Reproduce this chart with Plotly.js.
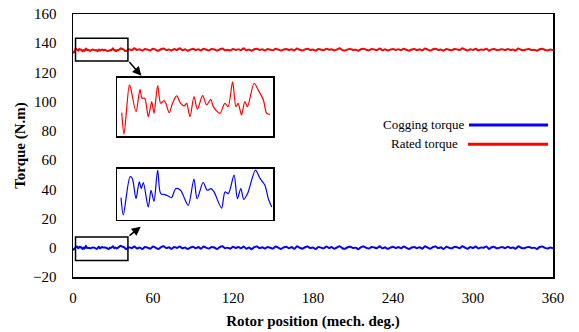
<!DOCTYPE html>
<html>
<head>
<meta charset="utf-8">
<script src="https://cdn.plot.ly/plotly-3.0.1.min.js"></script>
<style>html,body{margin:0;padding:0;background:#fff;}#chart{width:579px;height:332px;}</style>
</head>
<body>
<div id="chart"></div>
<script>
// ---- Data ----
// Rated torque, detail over 0-40 mech. deg (from the zoomed inset)
const ratedPosDetail = [0,0.62,2.05,2.43,3.85,4.93,5.47,6.2,7.17,8.09,8.7,9.7,10.5,11.4,11.9,12.8,13.7,14.8,15.9,16.8,17.5,18.4,19.5,20.4,21.8,22.9,24.0,24.7,26.5,27.8,28.7,29.9,30.8,31.4,32.3,33.2,33.9,35.7,36.8,38.2,39.1,40.0];
const ratedTorqueDetail = [134.74,133.46,136.4,136.2,134.8,136.14,135.6,135.6,134.5,135.4,134.7,136.36,135.3,135.46,135.3,134.74,135.3,135.74,135.3,135.14,135.3,134.5,135.7,134.94,135.76,135.2,135.54,135.1,134.7,135.3,135.1,136.58,135.1,135.3,134.6,135.4,135.1,136.5,136.1,135.5,134.7,134.64];
// Cogging torque, detail over 0-40 mech. deg (from the zoomed inset)
const coggingPosDetail = [0,0.61,2.39,3.0,3.98,4.85,5.39,5.92,7.24,7.96,8.75,9.73,10.53,11.67,12.5,13.4,14.56,15.8,16.5,17.85,19.36,20.2,21.8,22.9,23.9,24.7,26.7,27.6,28.5,30.0,30.9,31.8,32.6,33.6,35.7,36.9,38.2,39.1,40.0];
const coggingTorqueDetail = [-0.32,-1.34,0.92,0.82,-0.38,0.62,0.22,0.58,-0.88,0.12,-0.54,1.32,-0.08,-0.14,-0.22,-0.32,0.22,0.12,-0.18,-0.78,0.78,-0.38,0.58,0.12,0.22,0.02,-0.94,0.02,-0.08,1.02,-0.38,0.22,-0.42,-0.08,1.32,0.82,0.42,-0.38,-0.88];
// Rest of the revolution, 42..360 deg every 2 deg
const ratedTorqueRest = [
135.9,135.2,136.6,135.4,135.8,134.9,136.1,135.6,135.0,136.3,
135.5,134.8,135.9,136.4,135.3,135.7,135.1,136.0,135.4,136.5,
135.2,135.8,134.9,135.6,136.2,135.3,135.9,135.0,136.3,135.5,
135.1,136.0,135.7,134.9,135.8,136.4,135.2,135.6,135.0,136.1,
135.4,135.9,135.3,136.5,135.1,135.7,134.8,135.9,136.2,135.4,
135.8,135.0,136.0,135.5,135.2,136.3,135.6,134.9,135.7,136.1,
135.3,135.9,135.1,136.4,135.5,135.0,135.8,136.2,135.4,135.7,
134.9,136.0,135.6,135.2,136.3,135.5,135.9,135.1,135.7,136.5,
135.3,135.0,135.8,136.1,135.4,135.6,134.8,135.9,136.2,135.5,
135.1,136.0,135.7,135.3,136.4,135.2,135.8,135.0,135.6,136.1,
135.4,135.9,135.2,136.3,135.5,134.9,135.7,136.0,135.3,135.8,
135.1,136.4,135.6,135.0,135.9,136.2,135.4,135.7,134.9,136.1,
135.5,135.2,136.0,135.8,135.3,136.5,135.6,135.0,135.9,135.4,
136.2,135.1,135.7,135.5,136.3,134.9,135.8,136.0,135.2,135.6,
135.9,135.3,136.1,135.4,135.7,135.0,136.4,135.5,135.2,135.8,
136.0,135.3,135.6,134.9,135.9,136.2,135.4,135.1,135.7,135.3];
const coggingTorqueRest = [
0.4,-0.3,0.9,-0.5,0.2,-0.8,0.6,0.1,-0.6,0.8,
0.0,-0.9,0.5,1.0,-0.2,0.3,-0.7,0.6,-0.1,0.9,
-0.4,0.2,-0.8,0.1,0.7,-0.3,0.5,-0.6,0.8,0.0,
-0.5,0.6,0.2,-0.9,0.4,1.0,-0.3,0.1,-0.6,0.7,
-0.1,0.5,-0.4,0.9,-0.7,0.2,-1.0,0.4,0.8,-0.2,
0.3,-0.6,0.6,0.0,-0.5,0.9,0.1,-0.8,0.3,0.7,
-0.3,0.5,-0.7,1.0,0.0,-0.6,0.4,0.8,-0.2,0.2,
-0.9,0.6,0.1,-0.4,0.9,-0.1,0.5,-0.7,0.3,1.1,
-0.3,-0.6,0.4,0.7,-0.2,0.1,-1.0,0.5,0.8,0.0,
-0.5,0.6,0.2,-0.3,1.0,-0.4,0.3,-0.7,0.1,0.7,
-0.2,0.5,-0.4,0.9,0.0,-0.8,0.2,0.6,-0.3,0.4,
-0.6,1.0,0.1,-0.6,0.5,0.8,-0.2,0.3,-0.9,0.7,
0.0,-0.4,0.6,0.4,-0.3,1.1,0.1,-0.6,0.5,-0.1,
0.8,-0.5,0.2,0.0,0.9,-0.8,0.4,0.6,-0.4,0.1,
0.5,-0.3,0.7,-0.1,0.2,-0.6,1.0,0.0,-0.4,0.3,
0.6,-0.2,0.1,-0.8,0.5,0.8,-0.1,-0.5,0.2,-0.3];
const restPositions = [];
for (let p = 42; p <= 360; p += 2) restPositions.push(p);

const xTickVals = [0,60,120,180,240,300,360];
const yTickVals = [-20,0,20,40,60,80,100,120,140,160];
const seriesNames = ['Cogging torque','Rated torque'];

const ratedPos = ratedPosDetail.concat(restPositions);
const ratedTorque = ratedTorqueDetail.concat(ratedTorqueRest);
const coggingPos = coggingPosDetail.concat(restPositions);
const coggingTorque = coggingTorqueDetail.concat(coggingTorqueRest);

const RED = '#ff0000', BLUE = '#0000ff';
const FONT = '"Liberation Serif", "DejaVu Serif", serif';

const traces = [
  {x: coggingPos, y: coggingTorque, type:'scatter', mode:'lines', name: seriesNames[0],
   line:{color:BLUE, width:2, shape:'spline', smoothing:0.6}, xaxis:'x', yaxis:'y'},
  {x: ratedPos, y: ratedTorque, type:'scatter', mode:'lines', name: seriesNames[1],
   line:{color:RED, width:2, shape:'spline', smoothing:0.6}, xaxis:'x', yaxis:'y'},
  // insets (zoom of 0-40 deg)
  {x: ratedPosDetail, y: ratedTorqueDetail, type:'scatter', mode:'lines',
   line:{color:RED, width:1.2, shape:'spline', smoothing:0.8}, xaxis:'x2', yaxis:'y2'},
  {x: coggingPosDetail, y: coggingTorqueDetail, type:'scatter', mode:'lines',
   line:{color:BLUE, width:1.2, shape:'spline', smoothing:0.8}, xaxis:'x3', yaxis:'y3'}
];

const insetAxis = {showline:true, mirror:true, linecolor:'#000', linewidth:1.5, showgrid:false,
  zeroline:false, showticklabels:false, ticks:'', fixedrange:true};

const layout = {
  width:579, height:332,
  margin:{l:73, r:26, t:14, b:55},
  paper_bgcolor:'#fff', plot_bgcolor:'#fff',
  showlegend:false,
  font:{family:FONT, color:'#000', size:15},
  xaxis:{range:[0,360], tickvals:xTickVals, showline:true, mirror:true, linecolor:'#000', linewidth:1.5,
    showgrid:false, zeroline:false, ticks:'', ticklabelstandoff:6,
    tickfont:{family:FONT, size:15, color:'#000'},
    title:{text:'<b>Rotor position (mech. deg.)</b>', font:{family:FONT, size:15, color:'#000'}, standoff:11}},
  yaxis:{range:[-20,160], tickvals:yTickVals, showline:true, mirror:true, linecolor:'#000', linewidth:1.5,
    showgrid:false, zeroline:false, ticks:'', ticklabelstandoff:12,
    tickfont:{family:FONT, size:15, color:'#000'},
    title:{text:'<b>Torque (N.m)</b>', font:{family:FONT, size:15, color:'#000'}, standoff:4}},
  xaxis2:Object.assign({domain:[0.0917,0.4167], range:[-1.27,40.8], anchor:'y2'}, insetAxis),
  yaxis2:Object.assign({domain:[0.536,0.757], range:[133.34,136.82], anchor:'x2'}, insetAxis),
  xaxis3:Object.assign({domain:[0.0917,0.4167], range:[-1.06,40.35], anchor:'y3'}, insetAxis),
  yaxis3:Object.assign({domain:[0.2185,0.4125], range:[-1.62,1.41], anchor:'x3'}, insetAxis),
  shapes:[
    {type:'rect', xref:'x', yref:'y', x0:1.9, x1:41.2, y0:127.9, y1:143.4, line:{color:'#000', width:1.5}},
    {type:'rect', xref:'x', yref:'y', x0:1.9, x1:41.2, y0:-8.7, y1:7.3, line:{color:'#000', width:1.5}},
    {type:'line', xref:'paper', yref:'paper', x0:0.825, x1:0.9896, y0:0.578, y1:0.578, line:{color:BLUE, width:3}},
    {type:'line', xref:'paper', yref:'paper', x0:0.823, x1:0.9896, y0:0.5046, y1:0.5046, line:{color:RED, width:3}}
  ],
  annotations:[
    {xref:'x', yref:'y', x:51.3, y:117.8, ax:-13.4, ay:-15.2, axref:'pixel', ayref:'pixel', text:'',
     showarrow:true, arrowhead:2, arrowsize:1.2, arrowwidth:1.5, arrowcolor:'#000'},
    {xref:'x', yref:'y', x:50.8, y:14.4, ax:-12.7, ay:10, axref:'pixel', ayref:'pixel', text:'',
     showarrow:true, arrowhead:2, arrowsize:1.2, arrowwidth:1.5, arrowcolor:'#000'},
    {xref:'paper', yref:'paper', x:0.819, y:0.5817, xanchor:'right', yanchor:'middle', showarrow:false,
     text:seriesNames[0], font:{family:FONT, size:13, color:'#000'}},
    {xref:'paper', yref:'paper', x:0.807, y:0.508, xanchor:'right', yanchor:'middle', showarrow:false,
     text:seriesNames[1], font:{family:FONT, size:13, color:'#000'}}
  ]
};

Plotly.newPlot('chart', traces, layout, {staticPlot:true, displayModeBar:false});
</script>
</body>
</html>
